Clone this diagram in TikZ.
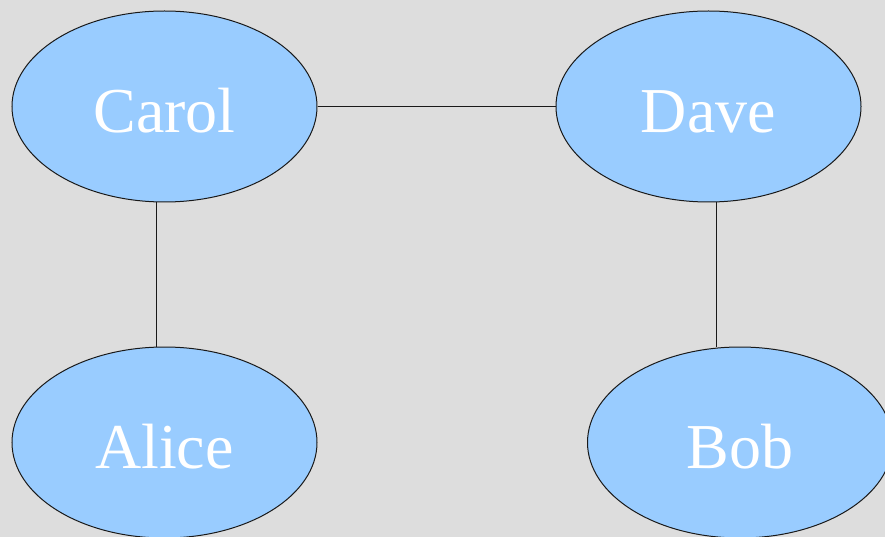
\documentclass[tikz,border=0pt]{standalone}
\usepackage{fontspec}
\setmainfont{Liberation Serif}
\usetikzlibrary{shapes.geometric,backgrounds}
\definecolor{bgc}{HTML}{DDDDDD}
\definecolor{nodefill}{HTML}{99CCFF}
\begin{document}
\begin{tikzpicture}[x=1pt,y=-1pt,
  person/.style={ellipse, draw=black!90, line width=1pt, fill=nodefill,
    minimum width=305pt, minimum height=191pt, inner sep=0pt,
    text=white, font=\fontsize{64}{70}\selectfont, text height=52pt, text depth=0pt},
  link/.style={draw=black!90, line width=1pt}]
\useasboundingbox (0,0) rectangle (885,537);
\clip (0,0) rectangle (885,537);
\node[person] (carol) at (164.5,106.5) {Carol};
\node[person] (dave) at (708.5,106.5) {Dave};
\node[person] (alice) at (164.5,442.5) {Alice};
\node[person] (bob) at (740,442.5) {Bob};
\begin{scope}[on background layer]
\fill[bgc] (0,0) rectangle (885,537);
\draw[link] (carol) -- (dave);
\draw[link] ([xshift=-8.5pt]carol.south) -- ([xshift=-8.5pt]alice.north);
\draw[link] ([xshift=8pt]dave.south) -- ([xshift=8pt]dave.south |- bob.north);
\end{scope}
\end{tikzpicture}
\end{document}
